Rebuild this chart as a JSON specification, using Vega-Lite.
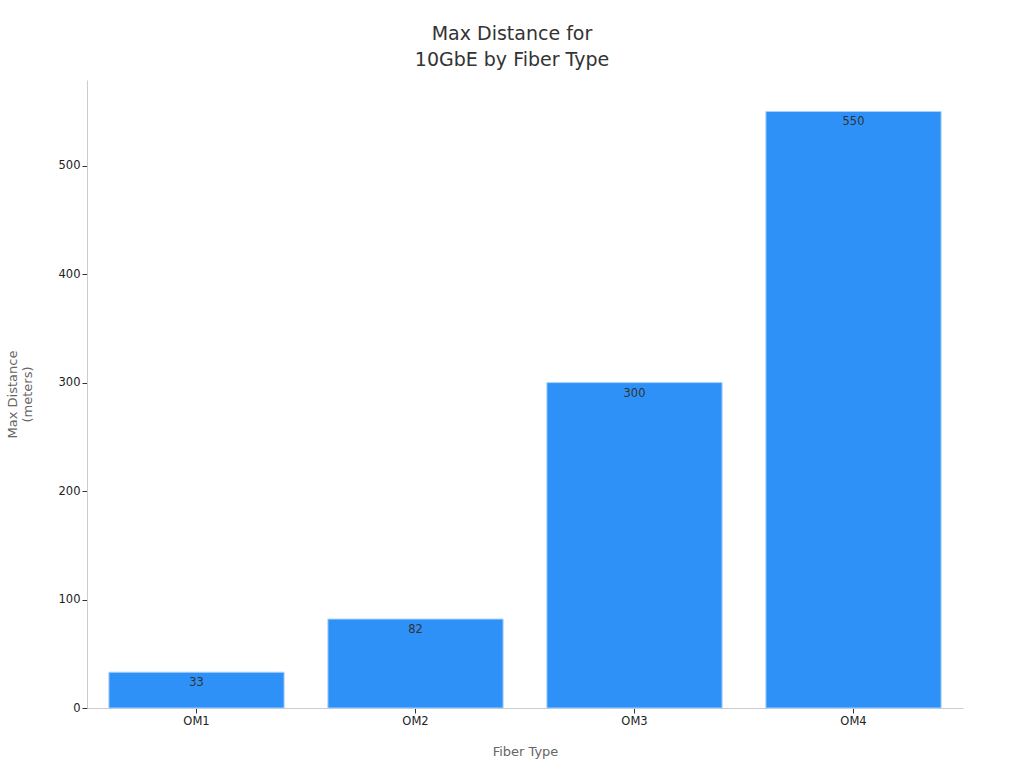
{
  "$schema": "https://vega.github.io/schema/vega-lite/v6.json",
  "width": 876,
  "height": 628,
  "autosize": "none",
  "padding": {"left": 87, "top": 80, "right": 61, "bottom": 60},
  "background": "white",
  "title": {
    "text": ["Max Distance for", "10GbE by Fiber Type"],
    "fontSize": 19,
    "fontWeight": "normal",
    "color": "#333333",
    "font": "DejaVu Sans",
    "lineHeight": 26,
    "offset": 10,
    "dx": -13
  },
  "config": {
    "view": {"stroke": null},
    "font": "DejaVu Sans",
    "axis": {
      "grid": false,
      "domainColor": "#cccccc",
      "tickColor": "#cccccc",
      "labelFont": "DejaVu Sans",
      "labelFontSize": 11.5,
      "labelColor": "#222222",
      "titleFont": "DejaVu Sans",
      "titleFontSize": 13,
      "titleFontWeight": "normal",
      "titleColor": "#666666"
    }
  },
  "data": {
    "values": [
      {"fiber": "OM1", "distance": 33},
      {"fiber": "OM2", "distance": 82},
      {"fiber": "OM3", "distance": 300},
      {"fiber": "OM4", "distance": 550}
    ]
  },
  "encoding": {
    "x": {
      "field": "fiber",
      "type": "nominal",
      "title": "Fiber Type",
      "scale": {"paddingInner": 0.2, "paddingOuter": 0.1},
      "axis": {"labelAngle": 0, "titlePadding": 19, "tickColor": "#333333"}
    },
    "y": {
      "field": "distance",
      "type": "quantitative",
      "title": ["Max Distance", "(meters)"],
      "scale": {"domain": [0, 579], "nice": false},
      "axis": {"values": [0, 100, 200, 300, 400, 500], "titlePadding": 24, "tickColor": "#333333"}
    }
  },
  "layer": [
    {
      "mark": {"type": "bar", "color": "#2e91f8", "stroke": "#a8d0fb", "strokeWidth": 1}
    },
    {
      "mark": {"type": "text", "baseline": "top", "dy": 5, "fontSize": 11.5, "color": "#333333"},
      "encoding": {"text": {"field": "distance", "type": "quantitative"}}
    }
  ]
}
